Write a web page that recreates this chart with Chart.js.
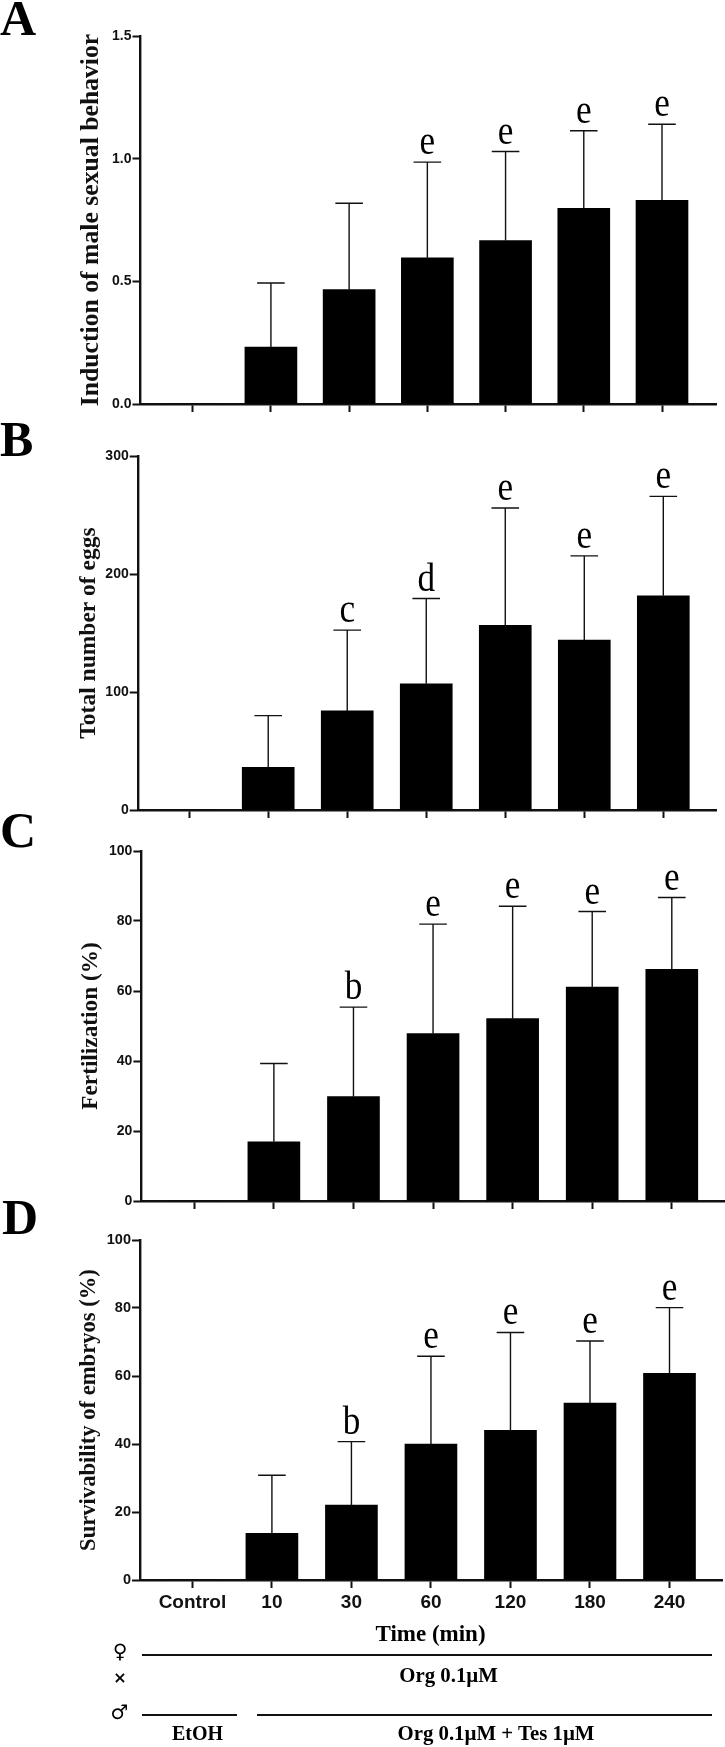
<!DOCTYPE html>
<html><head><meta charset="utf-8">
<script src="https://cdn.jsdelivr.net/npm/chart.js@4/dist/chart.umd.min.js"></script>
<style>
html,body{margin:0;padding:0;background:#fff;overflow:hidden}
#stage{position:relative;width:725px;height:1747px;overflow:hidden;filter:blur(0.45px)}
canvas{position:absolute;left:0}
.t{position:absolute;white-space:nowrap;line-height:1;color:#000;transform:translate(-50%,-50%);font-family:"Liberation Serif";font-weight:bold;font-size:20px}
.p{position:absolute;font:bold 50px/1 "Liberation Serif";color:#000;white-space:nowrap}
.l{position:absolute;height:2px;background:#111}
</style></head><body><div id="stage"></div>
<script>
const categories = ["Control","10","30","60","120","180","240"];
const valuesA = [0,0.232,0.466,0.596,0.666,0.798,0.83];
const errorsA = [0,0.493,0.818,0.986,1.029,1.114,1.14];
const lettersA = ["","","","e","e","e","e"];
const ticksA = [0,0.5,1.0,1.5];
const valuesB = [0,36.2,84,107,156.6,144,181.5];
const errorsB = [0,80,152.4,179.2,255.9,215.4,265.8];
const lettersB = ["","","c","d","e","e","e"];
const ticksB = [0,100,200,300];
const valuesC = [0,16.9,29.8,47.8,52.1,61.1,66.2];
const errorsC = [0,39.3,55.4,79.1,84.2,82.7,86.7];
const lettersC = ["","","b","e","e","e","e"];
const ticksC = [0,20,40,60,80,100];
const valuesD = [0,13.7,22,40,44,52,60.8];
const errorsD = [0,30.8,40.7,65.8,72.8,70.3,80.1];
const lettersD = ["","","b","e","e","e","e"];
const ticksD = [0,20,40,60,80,100];

const panels = [
 {name:"A",vals:valuesA,errs:errorsA,lets:lettersA,yt:ticksA,dec:1,title:"Induction of male sexual behavior",tf:25.7,tx:91,
  ax:140.5,ar:716,top:36,y0:404,t0:192.7,t6:662,tick:14,lb:35,lx:0},
 {name:"B",vals:valuesB,errs:errorsB,lets:lettersB,yt:ticksB,dec:0,title:"Total number of eggs",tf:23.5,tx:89,
  ax:137.7,ar:716.3,top:455.7,y0:809.3,t0:189.2,t6:663.3,tick:14,lb:456,lx:0},
 {name:"C",vals:valuesC,errs:errorsC,lets:lettersC,yt:ticksC,dec:0,title:"Fertilization (%)",tf:23.3,tx:91,
  ax:141.4,ar:724,top:851,y0:1200.7,t0:194.3,t6:671.8,tick:14,lb:846.7,lx:0},
 {name:"D",vals:valuesD,errs:errorsD,lets:lettersD,yt:ticksD,dec:0,title:"Survivability of embryos (%)",tf:22.6,tx:89,
  ax:140,ar:722.3,top:1240.3,y0:1580.7,t0:192.4,t6:669.5,tick:14.5,lb:1234,lx:2,xlabels:true}
];

const errorPlugin = {
  id:"errorPlugin",
  afterDatasetsDraw(chart,args,o){
    const ctx=chart.ctx, meta=chart.getDatasetMeta(0), y=chart.scales.y;
    ctx.save();
    ctx.strokeStyle="#111"; ctx.fillStyle="#000"; ctx.lineWidth=1.4;
    o.errs.forEach((e,i)=>{
      if(!e) return;
      const x=meta.data[i].x, yTop=y.getPixelForValue(e), yBar=y.getPixelForValue(o.vals[i]);
      ctx.beginPath();
      ctx.moveTo(x,yBar); ctx.lineTo(x,yTop);
      ctx.moveTo(x-13.8,yTop); ctx.lineTo(x+13.8,yTop);
      ctx.stroke();
      if(o.lets[i]){
        ctx.save();
        ctx.translate(x,yTop-8);
        ctx.scale(0.88,1);
        ctx.font='40px "Liberation Serif"';
        ctx.textAlign="center"; ctx.textBaseline="alphabetic";
        ctx.fillText(o.lets[i],0,0);
        ctx.restore();
      }
    });
    ctx.restore();
  }
};

const stage=document.getElementById("stage");
const PAD=14, BOTTOM=44;
panels.forEach(p=>{
  const c=document.createElement("canvas");
  const top=Math.round(p.top)-PAD, h=Math.round(p.y0-p.top)+PAD+BOTTOM;
  c.style.top=top+"px";
  c.width=725; c.height=h;
  stage.appendChild(c);
  const step=(p.t6-p.t0)/6;
  const lh=p.tf*1.2;
  new Chart(c,{
    type:"bar",
    data:{datasets:[{data:p.vals.map((v,i)=>({x:i,y:v})),backgroundColor:"#000",borderWidth:0,barThickness:52}]},
    plugins:[errorPlugin],
    options:{
      responsive:false,animation:false,
      layout:{padding:{top:PAD,right:725-p.ar,left:0,bottom:0}},
      plugins:{legend:{display:false},tooltip:{enabled:false},errorPlugin:{errs:p.errs,vals:p.vals,lets:p.lets}},
      scales:{
        x:{type:"linear",offset:false,min:-(p.t0-p.ax)/step,max:6+(p.ar-p.t6)/step,
          afterFit(s){s.height=BOTTOM},
          afterBuildTicks(s){s.ticks=categories.map((_,i)=>({value:i}))},
          grid:{offset:false,drawOnChartArea:false,drawTicks:true,tickLength:8,tickWidth:2,tickColor:"#111"},
          border:{color:"#111",width:2.4},
          ticks:{autoSkip:false,maxRotation:0,padding:3,color:"#111",
            font:{family:"Liberation Sans",weight:"bold",size:19},
            callback:v=>p.xlabels?categories[v]:""}
        },
        y:{min:p.yt[0],max:p.yt[p.yt.length-1],
          afterFit(s){s.width=p.ax},
          afterBuildTicks(s){s.ticks=p.yt.map(v=>({value:v}))},
          grid:{drawOnChartArea:false,drawTicks:true,tickLength:8,tickWidth:2,tickColor:"#111"},
          border:{color:"#111",width:2.4},
          title:{display:true,text:p.title,color:"#111",padding:{top:p.tx-lh/2,bottom:0},
            font:{family:"Liberation Serif",weight:"bold",size:p.tf,lineHeight:1.2}},
          ticks:{padding:1,color:"#111",font:{family:"Liberation Sans",weight:"bold",size:p.tick},
            callback:v=>v.toFixed(p.dec)}
        }
      }
    }
  });
  const L=document.createElement("div");
  L.className="p"; L.textContent=p.name;
  L.style.left=p.lx+"px"; L.style.top=(p.lb-41.9)+"px";
  stage.appendChild(L);
});

const notes = [
 ["Time (min)",430.5,1632.7,23,0],
 ["Org 0.1µM",448.6,1675,20.8,0],
 ["EtOH",197.5,1733,20,0],
 ["Org 0.1µM + Tes 1µM",496,1733,20.8,0],
 ["♀",120,1651,20,1],
 ["×",120,1678,16,1],
 ["♂",119.5,1712,20,1]
];
const rules = [[141.7,711.6,1655],[141.7,236.7,1715.3],[256.7,711.6,1715.3]];
notes.forEach(n=>{
  const d=document.createElement("div");
  d.className="t"; d.textContent=n[0];
  d.style.left=n[1]+"px"; d.style.top=n[2]+"px"; d.style.fontSize=n[3]+"px";
  if(n[4]) d.style.fontFamily='"DejaVu Sans"';
  stage.appendChild(d);
});
rules.forEach(r=>{
  const d=document.createElement("div");
  d.className="l";
  d.style.left=r[0]+"px"; d.style.width=(r[1]-r[0])+"px"; d.style.top=(r[2]-1)+"px";
  stage.appendChild(d);
});
</script>
</body></html>
